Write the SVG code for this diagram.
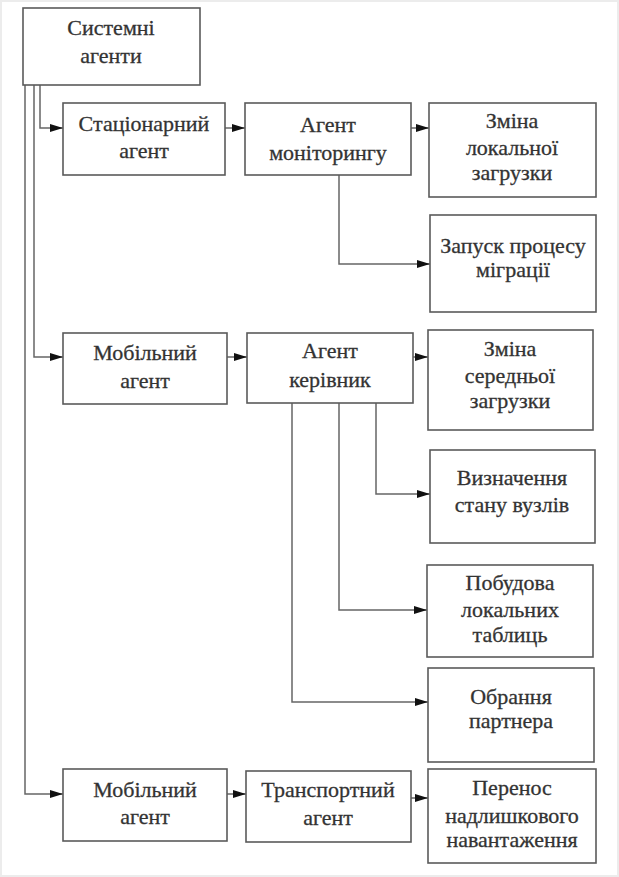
<svg xmlns="http://www.w3.org/2000/svg" width="619" height="877" viewBox="0 0 619 877">
<defs>
<marker id="ah" markerUnits="userSpaceOnUse" markerWidth="13" markerHeight="8" refX="13" refY="4" orient="auto">
<path d="M0,0 L13,4 L0,8 Z" fill="#111"/>
</marker>
<style>
.box{fill:#fff;stroke:#5a5a5a;stroke-width:1.6}
text{font-family:'Liberation Serif','Times New Roman',Times,serif;font-size:22px;fill:#333;stroke:#333;stroke-width:0.3;text-anchor:middle}
.c{fill:none;stroke:#666;stroke-width:1.5}
.a{marker-end:url(#ah)}
</style>
</defs>
<rect x="0" y="0" width="619" height="877" fill="#fff"/>
<rect x="1" y="1" width="617" height="875" fill="none" stroke="#ececec" stroke-width="2"/>
<g id="connectors">
<path class="c a" d="M40,85 V128 H63"/>
<path class="c a" d="M34,85 V357 H63"/>
<path class="c a" d="M25,85 V794 H63"/>
<path class="c a" d="M225,128 H245"/>
<path class="c a" d="M411,128 H429"/>
<path class="c a" d="M339,175 V264 H430"/>
<path class="c a" d="M227,357 H247"/>
<path class="c a" d="M413,357 H428"/>
<path class="c a" d="M376,403 V494 H430"/>
<path class="c a" d="M339,403 V610 H427"/>
<path class="c a" d="M292,403 V702 H428"/>
<path class="c a" d="M227,794 H246"/>
<path class="c a" d="M411,798 H428"/>
</g>
<g id="systemni">
<rect class="box" x="23" y="8" width="177" height="77"/>
<text x="111" y="35">Системні</text>
<text x="111" y="63">агенти</text>
</g>
<g id="stacionarnyi">
<rect class="box" x="63" y="103" width="162" height="72"/>
<text x="144" y="131">Стаціонарний</text>
<text x="144" y="158">агент</text>
</g>
<g id="monitoring">
<rect class="box" x="245" y="103" width="166" height="72"/>
<text x="328" y="132">Агент</text>
<text x="328" y="160">моніторингу</text>
</g>
<g id="zmina-lokalnoi">
<rect class="box" x="429" y="103" width="167" height="94"/>
<text x="512" y="128">Зміна</text>
<text x="512" y="155">локальної</text>
<text x="512" y="180">загрузки</text>
</g>
<g id="zapusk">
<rect class="box" x="430" y="215" width="166" height="97"/>
<text x="513" y="253">Запуск процесу</text>
<text x="513" y="277">міграції</text>
</g>
<g id="mobilnyi1">
<rect class="box" x="63" y="333" width="164" height="71"/>
<text x="145" y="360">Мобільний</text>
<text x="145" y="388">агент</text>
</g>
<g id="kerivnyk">
<rect class="box" x="247" y="333" width="166" height="70"/>
<text x="330" y="358">Агент</text>
<text x="330" y="387">керівник</text>
</g>
<g id="zmina-serednoi">
<rect class="box" x="428" y="330" width="165" height="100"/>
<text x="510" y="356">Зміна</text>
<text x="510" y="383">середньої</text>
<text x="510" y="408">загрузки</text>
</g>
<g id="vyznachennia">
<rect class="box" x="430" y="450" width="165" height="93"/>
<text x="512" y="485">Визначення</text>
<text x="512" y="512">стану вузлів</text>
</g>
<g id="pobudova">
<rect class="box" x="427" y="565" width="166" height="92"/>
<text x="510" y="590">Побудова</text>
<text x="510" y="617">локальних</text>
<text x="510" y="642">таблиць</text>
</g>
<g id="obrannia">
<rect class="box" x="428" y="668" width="166" height="94"/>
<text x="511" y="704">Обрання</text>
<text x="511" y="728">партнера</text>
</g>
<g id="mobilnyi2">
<rect class="box" x="63" y="769" width="164" height="72"/>
<text x="145" y="797">Мобільний</text>
<text x="145" y="824">агент</text>
</g>
<g id="transportnyi">
<rect class="box" x="246" y="771" width="165" height="71"/>
<text x="328" y="797">Транспортний</text>
<text x="328" y="825">агент</text>
</g>
<g id="perenos">
<rect class="box" x="428" y="769" width="168" height="94"/>
<text x="512" y="795">Перенос</text>
<text x="512" y="823">надлишкового</text>
<text x="512" y="847">навантаження</text>
</g>
</svg>
